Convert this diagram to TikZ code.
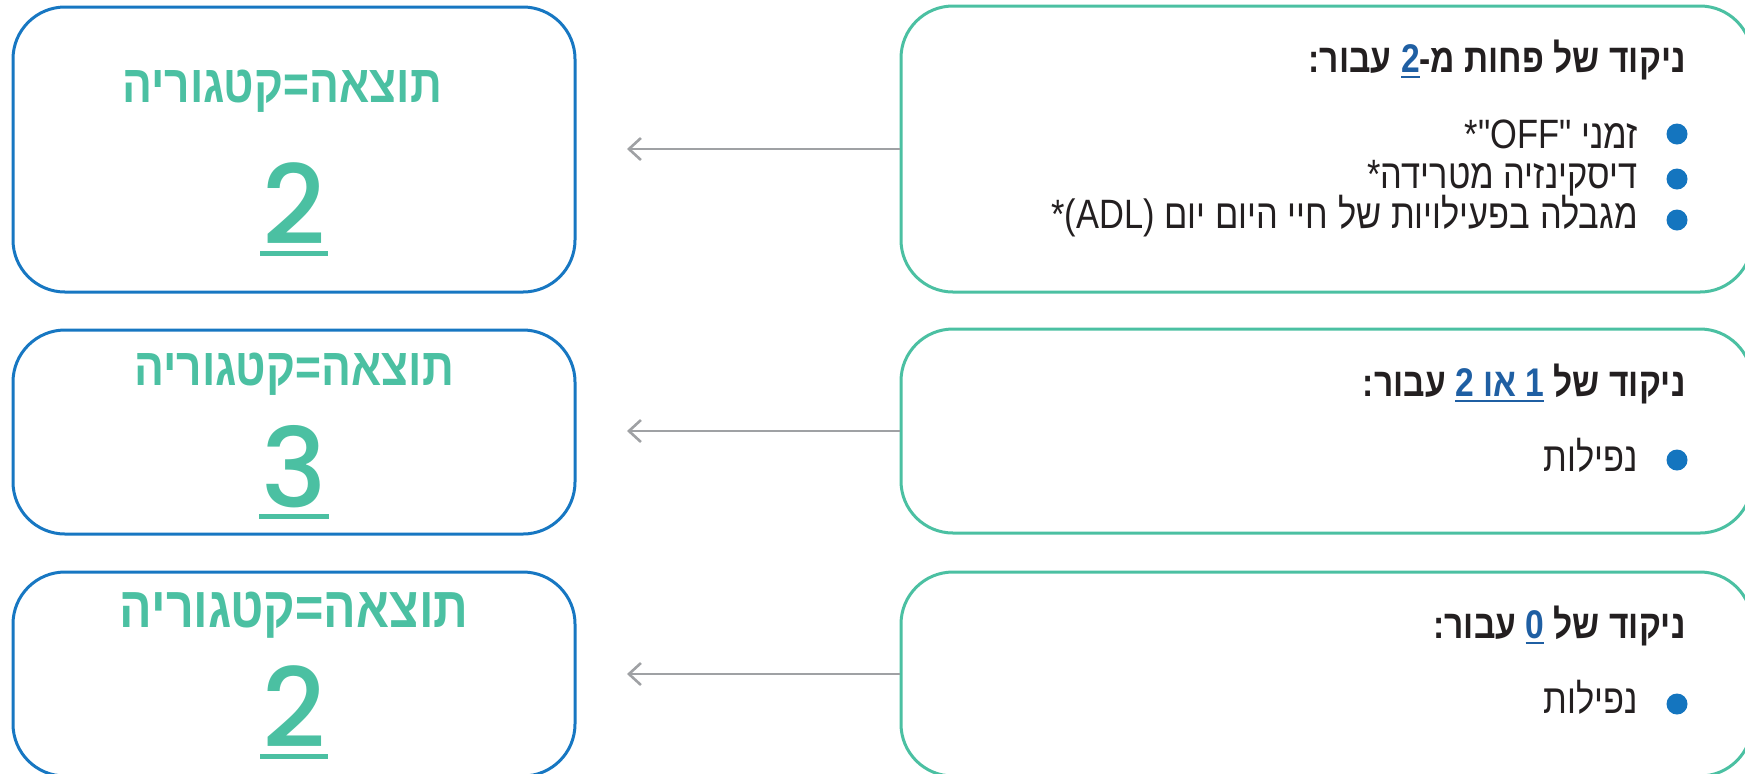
\documentclass[tikz,border=0pt]{standalone}
\usepackage{fontspec}
\usepackage{xcolor}
\usetikzlibrary{arrows.meta}
\usetikzlibrary{calc}
\usetikzlibrary{positioning}
\TeXXeTstate=1
\newfontfamily\hebfont[Script=Hebrew]{Liberation Sans}
\newfontfamily\hebnarrow[Script=Hebrew,FakeStretch=0.84]{Liberation Sans}
\newfontfamily\numfont{Poppins Medium}
\definecolor{resgreen}{HTML}{4BC0A2}
\definecolor{resblue}{HTML}{1777C2}
\definecolor{dotblue}{HTML}{1475BF}
\definecolor{ulblue}{HTML}{1F5FA3}
\definecolor{arrgray}{HTML}{9FA1A4}
\definecolor{txtdark}{HTML}{231F20}
\newcommand\numul[1]{\hbox{\setbox0\hbox{#1}\rlap{\kern-1pt\rule[-5.8pt]{\dimexpr\wd0+2pt\relax}{2.5pt}}\box0}}
\newcommand\hul[1]{\hbox{\beginL{\color{ulblue}\setbox0\hbox{#1}\rlap{\rule[-3pt]{\wd0}{1.1pt}}\box0}\endL}}

\begin{document}
\begin{tikzpicture}[x=0.5pt,y=-0.5pt,
    resbox/.style={draw=resblue,line width=1.5pt,rounded corners=26pt,minimum width=281pt,inner sep=0pt},
    critbox/.style={draw=resgreen,line width=1.5pt,rounded corners=26pt,minimum width=425.5pt,inner sep=0pt},
    restitle/.style={anchor=base,inner sep=0pt,text=resgreen,font=\hebnarrow\bfseries\fontsize{26.4}{30}\selectfont},
    resnum/.style={anchor=base,inner sep=0pt,text=resgreen,font=\numfont\fontsize{55}{60}\selectfont},
    crithead/.style={anchor=base east,inner sep=0pt,text=txtdark,font=\hebnarrow\bfseries\fontsize{20}{24}\selectfont},
    crititem/.style={anchor=base east,inner sep=0pt,text=txtdark,font=\hebnarrow\fontsize{20.5}{24}\selectfont},
    dot/.style={circle,fill=dotblue,inner sep=0pt,minimum size=10.5pt},
    arr/.style={draw=arrgray,line width=1.3pt,-{Straight Barb[length=6pt,width=11pt]}}]
  \useasboundingbox (0,0) rectangle (1745,773);

  \node[resbox,minimum height=142.5pt] (L1) at (294,149.5) {};
  \node[resbox,minimum height=102pt] (L2) at (294,432) {};
  \node[resbox,minimum height=102pt] (L3) at (294,674) {};
  \node[critbox,minimum height=143pt] (R1) at (1326.5,149) {};
  \node[critbox,minimum height=102pt] (R2) at (1326.5,431) {};
  \node[critbox,minimum height=102pt] (R3) at (1326.5,674) {};

  \node[restitle] (T1) at (282,102) {\beginR תוצאה=קטגוריה\endR};
  \node[restitle] (T2) at (294,385) {\beginR תוצאה=קטגוריה\endR};
  \node[restitle,font=\hebnarrow\bfseries\fontsize{28.8}{32}\selectfont] (T3) at (294,627) {\beginR תוצאה=קטגוריה\endR};
  \node[resnum] (N1) at (294,244) {\numul{2}};
  \node[resnum] (N2) at (294,507) {\numul{3}};
  \node[resnum] (N3) at (294,747) {\numul{2}};

  \node[crithead] (H1) at (1686,72) {\beginR ניקוד של פחות מ-\hul{2} עבור:\endR};
  \node[dot] (D11) at (1677,134) {};
  \node[crititem] (I11) at (1638,148) {\beginR זמני \beginL*"OFF"\endL\endR};
  \node[dot] (D12) at (1677,179) {};
  \node[crititem] (I12) at (1638,188) {\beginR דיסקינזיה מטרידה*\endR};
  \node[dot] (D13) at (1677,220) {};
  \node[crititem] (I13) at (1638,228) {\beginR מגבלה בפעילויות של חיי היום יום \beginL*(ADL)\endL\endR};

  \node[crithead] (H2) at (1686,396) {\beginR ניקוד של \hul{\beginR 1 או 2\endR} עבור:\endR};
  \node[dot] (D21) at (1677,460) {};
  \node[crititem] (I21) at (1638,471) {\beginR נפילות\endR};

  \node[crithead] (H3) at (1686,638) {\beginR ניקוד של \hul{0} עבור:\endR};
  \node[dot] (D31) at (1677,704) {};
  \node[crititem] (I31) at (1638,713) {\beginR נפילות\endR};

  \coordinate (E1) at (627,149);
  \coordinate (E2) at (627,431);
  \coordinate (E3) at (627,674);
  \draw[arr] (R1.west) -- (E1);
  \draw[arr] (R2.west) -- (E2);
  \draw[arr] (R3.west) -- (E3);
\end{tikzpicture}
\end{document}
